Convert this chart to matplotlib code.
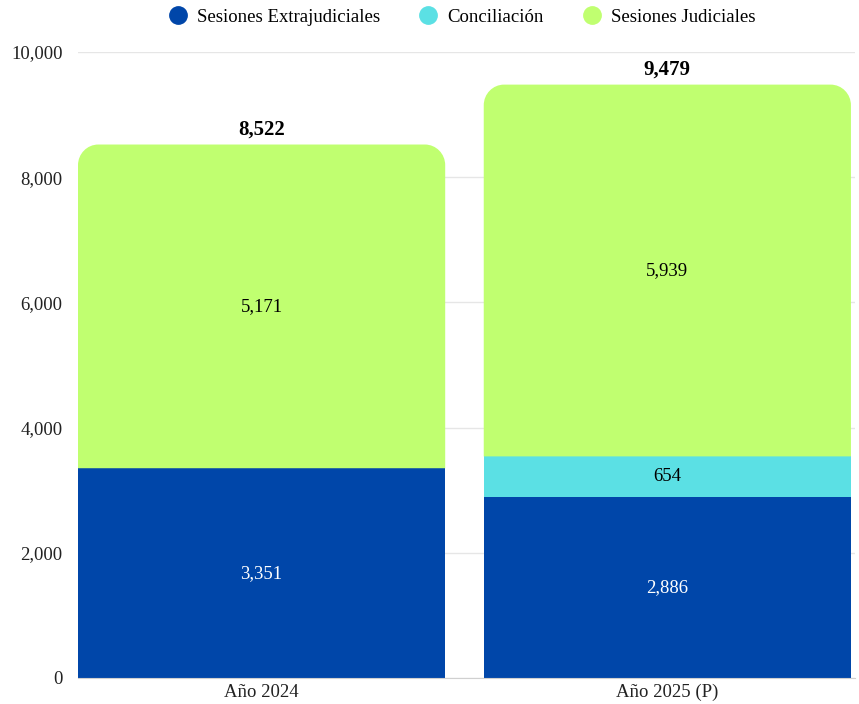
import matplotlib
matplotlib.use("Agg")
import matplotlib.pyplot as plt
from matplotlib.path import Path
from matplotlib.patches import PathPatch
from matplotlib.lines import Line2D
from matplotlib.ticker import FuncFormatter

plt.rcParams['font.family'] = ['Liberation Serif', 'DejaVu Serif']

categories = ["Año 2024", "Año 2025 (P)"]
series_names = ["Sesiones Extrajudiciales", "Conciliación", "Sesiones Judiciales"]
extrajudiciales = [3351, 2886]
conciliacion = [0, 654]
judiciales = [5171, 5939]
totals = [8522, 9479]
yticks = [0, 2000, 4000, 6000, 8000, 10000]

colors = ["#0046A9", "#5BE0E4", "#C0FF70"]
text_colors = ["white", "black", "black"]

fig = plt.figure(figsize=(8.59, 7.04), dpi=100)
ax = fig.add_axes([78/859, 26/704, 777/859, 626/704])

x = list(range(len(categories)))
width = 0.905
series = [extrajudiciales, conciliacion, judiciales]
bottoms = [0] * len(categories)

for si, vals in enumerate(series):
    bars = ax.bar(x, vals, width, bottom=bottoms, color=colors[si], linewidth=0, zorder=2)
    for i, (b, v) in enumerate(zip(bars, vals)):
        if si == len(series) - 1:
            b.set_visible(False)
            x0 = b.get_x(); x1 = x0 + b.get_width()
            y0 = b.get_y(); y1 = y0 + b.get_height()
            rx = 0.05; ry = 330
            k = 0.5523
            verts = [(x0, y0), (x0, y1 - ry),
                     (x0, y1 - ry + k*ry), (x0 + rx - k*rx, y1), (x0 + rx, y1),
                     (x1 - rx, y1),
                     (x1 - rx + k*rx, y1), (x1, y1 - ry + k*ry), (x1, y1 - ry),
                     (x1, y0), (x0, y0)]
            codes = [Path.MOVETO, Path.LINETO,
                     Path.CURVE4, Path.CURVE4, Path.CURVE4,
                     Path.LINETO,
                     Path.CURVE4, Path.CURVE4, Path.CURVE4,
                     Path.LINETO, Path.CLOSEPOLY]
            ax.add_patch(PathPatch(Path(verts, codes), facecolor=colors[si],
                                   edgecolor='none', zorder=2))
        if v > 0:
            ax.text(b.get_x() + b.get_width()/2, b.get_y() + v/2, f"{v:,}",
                    ha='center', va='center', fontsize=13.5, color=text_colors[si], zorder=3)
    bottoms = [bo + v for bo, v in zip(bottoms, vals)]

for i, t in enumerate(totals):
    ax.text(x[i], t + 75, f"{t:,}", ha='center', va='bottom', fontsize=15,
            fontweight='bold', color='black', zorder=3)

ax.set_xlim(-width/2, 1 + width/2 + 0.01)
ax.set_ylim(0, 10000)
ax.set_yticks(yticks)
ax.yaxis.set_major_formatter(FuncFormatter(lambda v, p: f"{int(v):,}"))
ax.set_xticks(x)
ax.set_xticklabels(categories)
ax.tick_params(axis='both', length=0, labelsize=13.5, colors='#222222')
ax.tick_params(axis='y', pad=11)
ax.tick_params(axis='x', pad=4)
ax.grid(axis='y', color='#E6E6E6', linewidth=1, zorder=0)
ax.set_axisbelow(True)
for s in ['top', 'right', 'left']:
    ax.spines[s].set_visible(False)
ax.spines['bottom'].set_color('#D0D0D0')

handles = [Line2D([0], [0], marker='o', linestyle='none', markersize=12.5,
                  markerfacecolor=c, markeredgecolor=c) for c in colors]
fig.legend(handles, series_names, loc='center', bbox_to_anchor=(462/859, 1 - 17/704),
           ncol=3, frameon=False, fontsize=13.5, handletextpad=0.5, columnspacing=2.1,
           handlelength=1.0)

fig.savefig("out.png", dpi=100)
